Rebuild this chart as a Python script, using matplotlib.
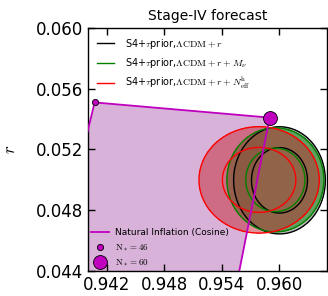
import numpy as np
import matplotlib
matplotlib.use("Agg")
import matplotlib.pyplot as plt

plt.rcParams['mathtext.fontset'] = 'cm'
plt.rcParams['font.family'] = ['DejaVu Sans']

# ---- data ----
xticks = [0.942, 0.948, 0.954, 0.960]
yticks = [0.044, 0.048, 0.052, 0.056, 0.060]

# Natural inflation (cosine) curves: N*=46 and N*=60 (ns, r)
n46_ns = [0.9357, 0.9407]
n46_r = [0.0420, 0.0551]
n60_ns = [0.9590, 0.9552]
n60_r = [0.0541, 0.0420]

# Forecast posteriors (centre ns, centre r, sigma ns, sigma r)
series_names = ["S4+$\\tau$prior,$\\Lambda\\mathrm{CDM}+r$",
                "S4+$\\tau$prior,$\\Lambda\\mathrm{CDM}+r+M_\\nu$",
                "S4+$\\tau$prior,$\\Lambda\\mathrm{CDM}+r+N_\\mathrm{eff}^\\mathrm{h}$"]
center_ns = [0.96003, 0.9596, 0.9579]
center_r = [0.04997, 0.05000, 0.05000]
sigma_ns = [0.00193, 0.00204, 0.00253]
sigma_r = [0.00142, 0.00138, 0.00141]
line_colors = ['k', 'g', 'r']
fill_colors = ['gray', 'green', '#c42832']
fill_alpha = [0.5, 0.5, 0.5]

levels_chi2 = [2.30, 6.17]

fig = plt.figure(figsize=(3.28, 2.96), dpi=100)
ax = fig.add_axes([0.268, 0.0845, 0.729, 0.8209])

# natural inflation fill
poly_x = n46_ns + n60_ns
poly_y = n46_r + n60_r
ax.fill(poly_x, poly_y, color='#d8b2d8', zorder=1, lw=0)

xg = np.linspace(0.940, 0.965, 500)
yg = np.linspace(0.044, 0.060, 500)
X, Y = np.meshgrid(xg, yg)
for i in range(3):
    Z = ((X - center_ns[i]) / sigma_ns[i]) ** 2 + ((Y - center_r[i]) / sigma_r[i]) ** 2
    ax.contourf(X, Y, Z, levels=[0, levels_chi2[1]], colors=[fill_colors[i]],
                alpha=fill_alpha[i], zorder=2 + i)
    ax.contour(X, Y, Z, levels=levels_chi2, colors=[line_colors[i]],
               linewidths=1.0, zorder=5)
    ax.plot([], [], color=line_colors[i], lw=1.0, label=series_names[i])

leg1 = ax.legend(loc='upper left', frameon=False, fontsize=7, handlelength=1.8,
                 handletextpad=1.1, labelspacing=0.55, borderaxespad=0.5)
ax.add_artist(leg1)

# natural inflation line and points
line_x = n46_ns + n60_ns
line_y = n46_r + n60_r
ln, = ax.plot(line_x, line_y, color='m', lw=1.3, zorder=6)
p46, = ax.plot([n46_ns[1]], [n46_r[1]], 'o', color='m', mec='k', mew=0.6,
               ms=4.5, zorder=7, clip_on=False, linestyle='none')
p60, = ax.plot([n60_ns[0]], [n60_r[0]], 'o', color='m', mec='k', mew=0.6,
               ms=10, zorder=7, clip_on=False, linestyle='none')

leg2 = ax.legend([ln, p46, p60],
                 ["Natural Inflation (Cosine)", "$\\mathrm{N}_*=46$", "$\\mathrm{N}_*=60$"],
                 loc='lower left', frameon=False, fontsize=6.5, handlelength=2.0,
                 handletextpad=0.7, labelspacing=0.55, borderaxespad=0.0,
                 borderpad=0.3)

ax.set_xlim(0.940, 0.965)
ax.set_ylim(0.044, 0.060)
ax.set_xticks(xticks)
ax.set_yticks(yticks)
ax.set_xticklabels(["%.3f" % v for v in xticks])
ax.set_yticklabels(["%.3f" % v for v in yticks])
ax.tick_params(direction='in', length=5, width=1, labelsize=12,
               top=True, right=True)
for s in ax.spines.values():
    s.set_linewidth(1.0)

ax.set_title("Stage-IV forecast", fontsize=10, pad=6)
ax.set_ylabel("$r$", fontsize=12)
ax.yaxis.set_label_coords(-0.29, 0.5)

fig.savefig("out.png", dpi=100)
